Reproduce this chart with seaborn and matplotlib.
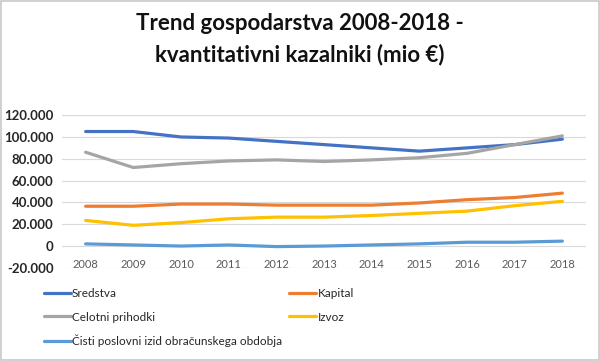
import numpy as np
import pandas as pd
import matplotlib
matplotlib.use('Agg')
import matplotlib.pyplot as plt
import seaborn as sns
from matplotlib.lines import Line2D
from matplotlib.patches import Rectangle
from matplotlib.ticker import FuncFormatter

# podatki (mio €), odčitani z grafa
years = [2008, 2009, 2010, 2011, 2012, 2013, 2014, 2015, 2016, 2017, 2018]
sredstva = [105000, 105000, 100000, 99000, 96000, 93000, 90000, 87000, 90000, 93000, 98000]
kapital = [36500, 36500, 38500, 38500, 37500, 37500, 37500, 39500, 42500, 44500, 48500]
prihodki = [86000, 72000, 75500, 78000, 79000, 77500, 79000, 81000, 85000, 93000, 101000]
izvoz = [23500, 19000, 21500, 25000, 26500, 26500, 28000, 30000, 32000, 37000, 41000]
izid = [2000, 1000, 0, 1000, -500, 0, 1000, 2000, 3500, 3500, 4500]

names = ['Sredstva', 'Kapital', 'Celotni prihodki', 'Izvoz',
         'Čisti poslovni izid obračunskega obdobja']
colors = ['#4472C4', '#ED7D31', '#A5A5A5', '#FFC000', '#5B9BD5']

df = pd.concat([
    pd.DataFrame({'Leto': [str(y) for y in years], 'Vrednost': vals, 'Serija': n})
    for n, vals in zip(names, [sredstva, kapital, prihodki, izvoz, izid])
])

sns.set_style('white')
plt.rcParams['font.family'] = ['Lato', 'DejaVu Sans']

fig = plt.figure(figsize=(6, 3.61), dpi=100)
ax = fig.add_axes([0.103, 0.258, 0.874, 0.423])

sns.lineplot(data=df, x='Leto', y='Vrednost', hue='Serija', hue_order=names,
             palette=colors, linewidth=2.3, legend=False, ax=ax, sort=False)

ax.set_ylim(-20000, 120000)
ax.set_yticks(np.arange(-20000, 120001, 20000))
ax.yaxis.set_major_formatter(FuncFormatter(lambda v, p: f'{int(v):,}'.replace(',', '.')))
ax.set_xlim(-0.5, len(years) - 0.5)
ax.grid(axis='y', color='#D9D9D9', linewidth=0.8)
ax.set_axisbelow(True)
for s in ['top', 'right', 'left']:
    ax.spines[s].set_visible(False)
ax.spines['bottom'].set_position(('data', 0))
ax.spines['bottom'].set_visible(False)
ax.tick_params(axis='x', length=0, pad=9, labelsize=8, labelcolor='#595959')
ax.tick_params(axis='y', length=0, pad=6, labelsize=9.5, labelcolor='#262626')
for t in ax.get_yticklabels():
    t.set_fontweight('bold')
ax.set_xlabel('')
ax.set_ylabel('')

# legenda
order = [0, 2, 4, 1, 3]
handles = [Line2D([0], [0], color=colors[i], linewidth=2.3) for i in order]
labels = [names[i] for i in order]
fig.legend(handles, labels, loc='upper left', bbox_to_anchor=(0.065, 0.215),
           ncol=2, frameon=False, fontsize=8.5, handlelength=2.3, handletextpad=0.1,
           columnspacing=0.6, labelspacing=1.05, borderaxespad=0)

fig.text(0.5, 0.935, 'Trend gospodarstva 2008-2018 -', ha='center', va='center',
         fontsize=16, fontweight='bold', color='#111111')
fig.text(0.5, 0.85, 'kvantitativni kazalniki (mio €)', ha='center', va='center',
         fontsize=16, fontweight='bold', color='#111111')

fig.patches.append(Rectangle((0.002, 0.003), 0.996, 0.994, transform=fig.transFigure,
                             fill=False, edgecolor='#C8C8C8', linewidth=1.2))

fig.savefig('out.png', dpi=100, facecolor='white')
